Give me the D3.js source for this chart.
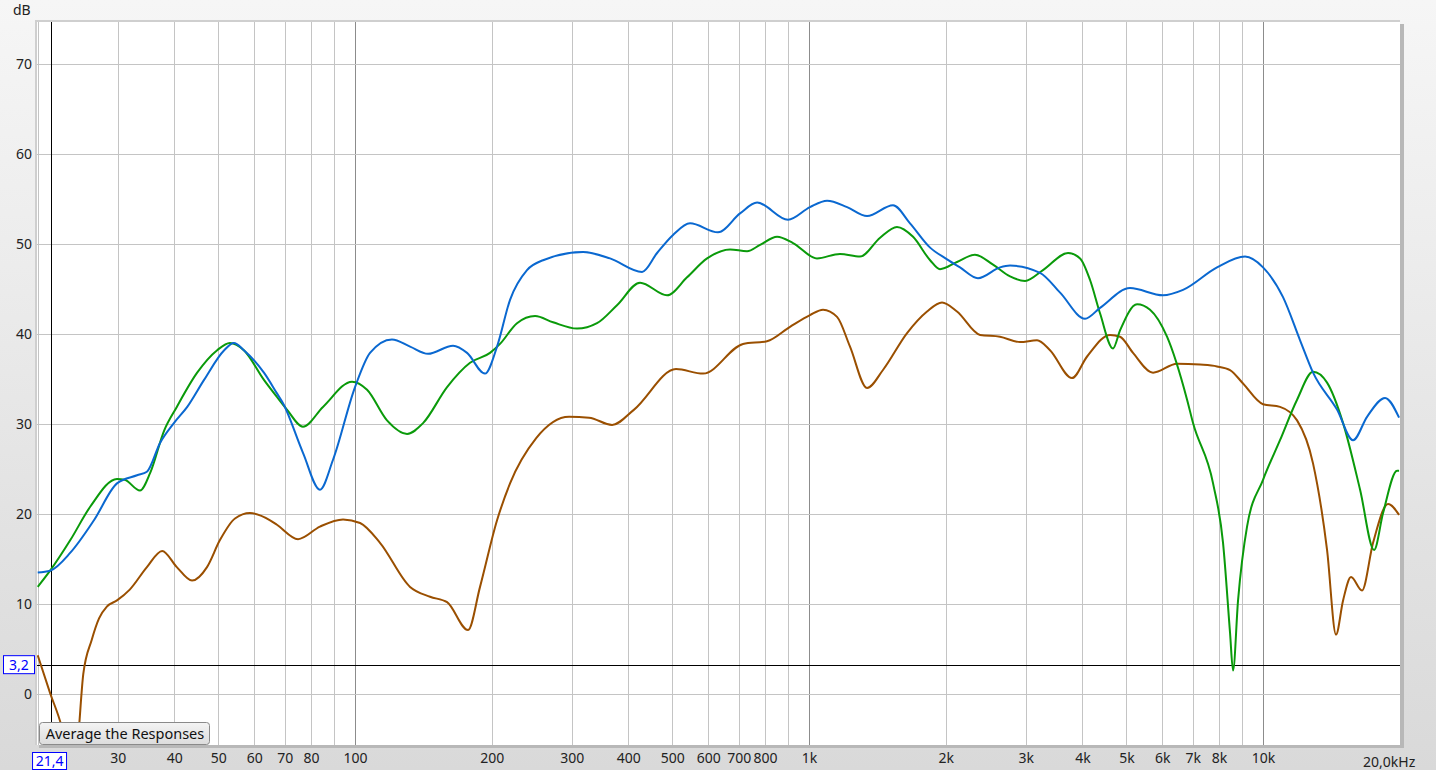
<!DOCTYPE html>
<html><head><meta charset="utf-8">
<script src="https://cdn.jsdelivr.net/npm/d3@7"></script>
<style>html,body{margin:0;padding:0;overflow:hidden;background:#eee}</style>
</head><body>
<svg id="chart" width="1436" height="770"></svg>
<script>
// ---- data (Hz, dB) ----
const blueFreq = [20,21.3,23.6,26.6,29.9,33.1,34.8,37.2,39.9,42.7,46.5,51.5,54.1,56.9,63.0,67.3,69.4,76.8,83.7,89.4,100,107.9,120.6,132.2,144.8,164.4,176.5,193.3,205.5,219.5,239.2,259.5,317.8,364.5,428.7,462.7,501.7,546.9,630.2,704.7,768.6,898.9,1005,1096,1213,1342,1531,1669,1848,2014,2151,2356,2634,2772,3227,3573,4054,4375,5093,6022,6665,7918,9129,10000,11067,12067,12889,14555,15785,16949,18569,19937];
const blueDb = [13.5,13.7,15.7,19.3,23.4,24.3,24.7,27.9,30.1,31.9,34.9,38.2,39.0,38.2,35.7,33.4,32.3,26.8,22.7,26.0,34.1,37.9,39.4,38.6,37.8,38.7,37.9,35.6,38.6,43.8,47.1,48.2,49.1,48.4,46.9,49.0,51.0,52.3,51.3,53.4,54.6,52.7,54.1,54.8,54.1,53.1,54.3,52.3,49.6,48.3,47.4,46.2,47.4,47.6,46.8,44.6,41.7,42.9,45.1,44.3,44.9,47.4,48.6,47.4,44.1,39.3,35.7,31.6,28.2,30.8,32.9,30.7];

const greenFreq = [20,21.3,23.6,26.1,29.9,31.1,33.6,35.4,38.0,40.5,44.9,49.7,53.0,56.9,63.0,67.3,70.8,76.8,85.0,98.5,106.3,117.6,130.2,141.2,159.5,179.2,198.3,208.6,227.4,249.2,273,308.3,341.2,377.6,424.4,486.7,538.6,596.3,669.9,730.2,780,850.5,922,1041,1170,1295,1434,1562,1695,1848,1943,2118,2320,2543,2772,2991,3276,3720,3954,4159,4375,4673,4842,5279,5638,6145,6803,7012,7761,8164,8459,8589,8810,9221,10000,10899,11884,12889,13836,15007,16360,17562,18382,19735,19937];
const greenDb = [11.9,13.7,17.1,20.8,23.9,23.8,22.6,24.6,29.3,31.9,35.7,38.2,39.0,38.2,34.9,33.0,31.6,29.7,31.9,34.7,33.8,30.4,28.9,30.1,34.1,36.8,37.9,38.9,41.2,42.0,41.3,40.6,41.2,43.2,45.7,44.3,46.3,48.4,49.4,49.2,49.9,50.8,50.1,48.4,48.9,48.6,50.7,51.9,50.8,48.2,47.2,48.0,48.8,47.7,46.4,45.9,47.1,49.0,48.4,46.0,42.3,38.4,40.4,43.3,42.7,39.7,32.7,30.1,23.4,16.8,6.8,2.6,10.4,18.6,23.8,28.2,32.7,35.8,34.6,30.1,22.7,16.0,20.1,24.8,24.8];

const brownFreq = [20,21.3,22.6,23.2,23.8,24.4,25.2,26.3,27.3,28.4,29.9,31.9,34.8,37.6,40.5,43.75,47.2,50.4,54.4,58.7,65.0,67.3,74.9,83.7,94.1,102.6,113.5,132.2,146.3,159.5,177.4,188.5,205.5,219.5,250.4,296.1,327.7,368.3,411.8,509.4,584.3,715.5,808.1,908.1,1005,1073.5,1152.6,1231,1342,1455,1644,1819.5,1963,2118,2381,2634,2915,3178,3395,3795,4097,4603,4842,5172,5724,6465,7264,7918,8459,9035,10000,10899,11884,12889,13836,14481,15007,15626,16520,17473,18851,19937];
const brownDb = [4.3,0.1,-3.7,-6.2,-8.0,-6.2,2.2,6.0,8.4,9.7,10.4,11.6,14.1,15.9,14.1,12.6,14.1,17.1,19.5,20.1,19.3,18.8,17.2,18.6,19.4,19.0,16.8,11.9,10.8,10.2,7.1,11.9,19.3,23.4,28.4,30.8,30.7,29.9,31.6,36.1,35.6,38.9,39.2,40.8,42.1,42.7,41.9,38.6,34.0,36.0,40.1,42.5,43.5,42.5,39.9,39.7,39.1,39.3,38.2,35.1,37.5,39.9,39.7,37.9,35.7,36.7,36.6,36.4,36.0,34.5,32.2,31.9,30.4,25.6,16.0,6.6,10.4,13.0,11.5,16.8,21.1,19.9];

const gridFreqs = [20,30,40,50,60,70,80,90,100,200,300,400,500,600,700,800,900,1000,2000,3000,4000,5000,6000,7000,8000,9000,10000,20000];
const decadeFreqs = [100,1000,10000];
const xLabelFreqs = [30,40,50,60,70,80,100,200,300,400,500,600,700,800,1000,2000,3000,4000,5000,6000,7000,8000,10000];
const xLabelTexts = ["30","40","50","60","70","80","100","200","300","400","500","600","700","800","1k","2k","3k","4k","5k","6k","7k","8k","10k"];
const yTicks = [0,10,20,30,40,50,60,70];
const cursorFreq = 21.4, cursorDb = 3.2;

// ---- layout ----
const svg = d3.select("#chart");
const L = 37, T = 22, R = 1400, B = 745;
const x = d3.scaleLog().domain([20,20000]).range([37.7,1399.7]);
const y = d3.scaleLinear().domain([-5.67,74.67]).range([B,T]);

const defs = svg.append("defs");
const bg = defs.append("linearGradient").attr("id","bg").attr("x1",0).attr("y1",0).attr("x2",0).attr("y2",1);
bg.append("stop").attr("offset","0%").attr("stop-color","#f6f6f6");
bg.append("stop").attr("offset","100%").attr("stop-color","#d9d9d9");
const btn = defs.append("linearGradient").attr("id","btn").attr("x1",0).attr("y1",0).attr("x2",0).attr("y2",1);
btn.append("stop").attr("offset","0%").attr("stop-color","#f4f4f4");
btn.append("stop").attr("offset","100%").attr("stop-color","#dcdcdc");
defs.append("clipPath").attr("id","clip").append("rect").attr("x",L).attr("y",T).attr("width",R-L).attr("height",B-T);

svg.append("rect").attr("width",1436).attr("height",770).attr("fill","url(#bg)");
// shadow + plot
svg.append("rect").attr("x",L+2).attr("y",T+2).attr("width",R-L+2).attr("height",B-T+1).attr("fill","#b8b8b8");
svg.append("rect").attr("x",L-2).attr("y",T-2).attr("width",R-L+2).attr("height",B-T+2).attr("fill","#cfcfcf");
svg.append("rect").attr("x",L).attr("y",T).attr("width",R-L).attr("height",B-T).attr("fill","#fff");

const g = svg.append("g").attr("clip-path","url(#clip)");
// grid
g.selectAll("line.vg").data(gridFreqs).join("line")
  .attr("x1",d=>Math.round(x(d))+0.5).attr("x2",d=>Math.round(x(d))+0.5)
  .attr("y1",T).attr("y2",B)
  .attr("stroke",d=>decadeFreqs.includes(d)?"#8c8c8c":"#c4c4c4").attr("stroke-width",1);
g.selectAll("line.hg").data(yTicks).join("line")
  .attr("x1",L).attr("x2",R)
  .attr("y1",d=>Math.round(y(d))+0.5).attr("y2",d=>Math.round(y(d))+0.5)
  .attr("stroke","#c4c4c4").attr("stroke-width",1);

// cursor lines
g.append("line").attr("x1",Math.round(x(cursorFreq))+0.5).attr("x2",Math.round(x(cursorFreq))+0.5)
  .attr("y1",T).attr("y2",B).attr("stroke","#000").attr("stroke-width",1);
g.append("line").attr("x1",L).attr("x2",R).attr("y1",Math.round(y(cursorDb))+0.5).attr("y2",Math.round(y(cursorDb))+0.5)
  .attr("stroke","#000").attr("stroke-width",1);

// curves
const line = d3.line().x(d=>x(d[0])).y(d=>y(d[1])).curve(d3.curveMonotoneX);
const series = [
  {f:brownFreq, v:brownDb, c:"#9a4f00"},
  {f:greenFreq, v:greenDb, c:"#0a9a0a"},
  {f:blueFreq, v:blueDb, c:"#0a68d0"}
];
series.forEach(s=>{
  g.append("path").datum(s.f.map((f,i)=>[f,s.v[i]]))
   .attr("d",line).attr("fill","none").attr("stroke",s.c).attr("stroke-width",2)
   .attr("stroke-linejoin","round");
});

// axes labels
const font = "'Noto Sans', 'Open Sans', sans-serif";
const yAxis = d3.axisLeft(y).tickValues(yTicks).tickSize(0).tickPadding(0).tickFormat(d3.format("d"));
const ya = svg.append("g").attr("transform","translate(32,0)").call(yAxis);
ya.select(".domain").remove();
ya.selectAll("text").attr("font-family",font).attr("font-size",14).attr("fill","#222");

const xAxis = d3.axisBottom(x).tickValues(xLabelFreqs).tickSize(0).tickPadding(0).tickFormat((d,i)=>xLabelTexts[i]);
const xa = svg.append("g").attr("transform","translate(0,753)").call(xAxis);
xa.select(".domain").remove();
xa.selectAll("text").attr("font-family",font).attr("font-size",14).attr("fill","#222");
svg.append("text").attr("x",1363).attr("y",767).attr("font-family",font).attr("font-size",14).attr("fill","#222").text("20,0kHz");

svg.append("text").attr("x",13).attr("y",15).attr("font-family",font).attr("font-size",14).attr("fill","#222").text("dB");

// cursor value boxes
const cx = x(cursorFreq);
svg.append("rect").attr("x",cx-18.5).attr("y",752.5).attr("width",34).attr("height",17).attr("fill","#fff").attr("stroke","#0000ff");
svg.append("text").attr("x",cx-1.5).attr("y",766).attr("text-anchor","middle").attr("font-family",font).attr("font-size",14).attr("fill","#0000ff").text("21,4");
const cy = y(cursorDb);
svg.append("rect").attr("x",3.5).attr("y",cy-9.5).attr("width",31).attr("height",18).attr("fill","#fff").attr("stroke","#0000ff");
svg.append("text").attr("x",19).attr("y",cy+5).attr("text-anchor","middle").attr("font-family",font).attr("font-size",14).attr("fill","#0000ff").text("3,2");

// button
svg.append("rect").attr("x",39.5).attr("y",722.5).attr("width",170).attr("height",22).attr("rx",3)
  .attr("fill","url(#btn)").attr("stroke","#8a8a8a");
svg.append("text").attr("x",125).attr("y",739).attr("text-anchor","middle").attr("font-family",font).attr("font-size",14.5).attr("fill","#111").text("Average the Responses");
</script>
</body></html>
